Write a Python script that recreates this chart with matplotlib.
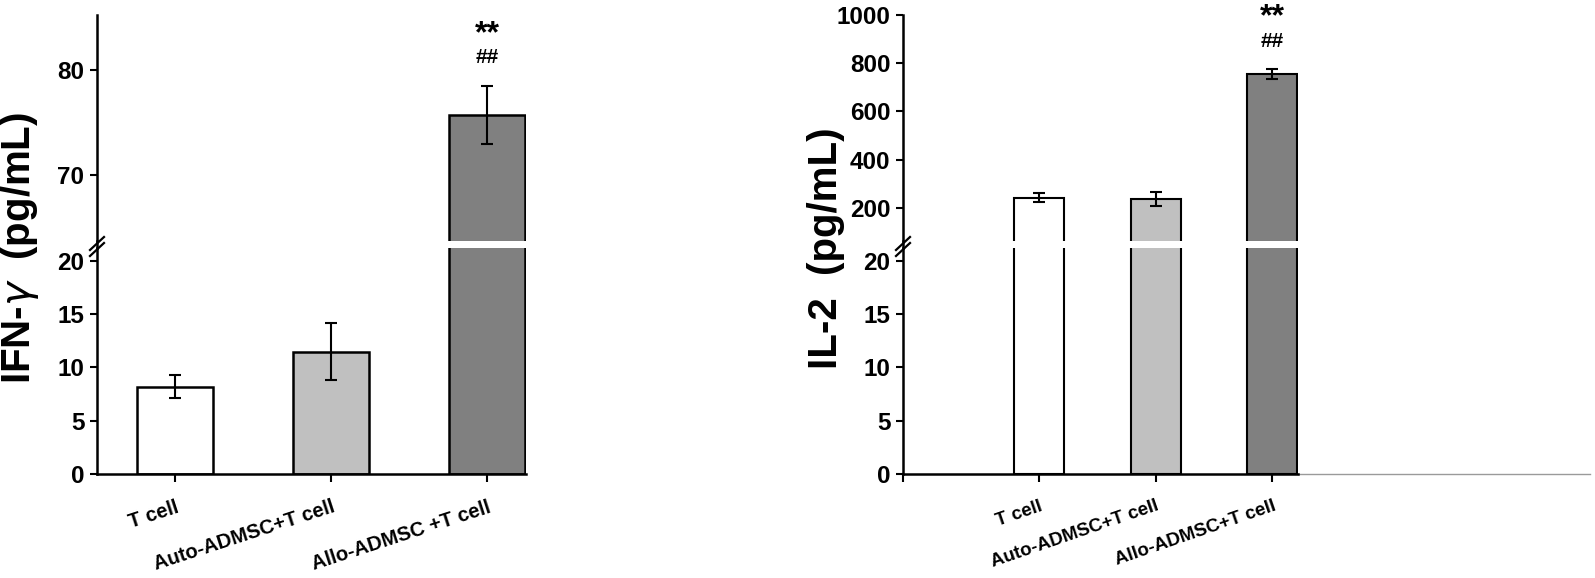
import numpy as np
import matplotlib
matplotlib.use("Agg")
import matplotlib.pyplot as plt
from matplotlib import font_manager
from matplotlib.lines import Line2D

# data
groups_ifn = ["T cell", "Auto-ADMSC+T cell", "Allo-ADMSC +T cell"]
groups_il2 = ["T cell", "Auto-ADMSC+T cell", "Allo-ADMSC+T cell"]
ifn_mean = [8.2, 11.5, 75.7]
ifn_err = [1.1, 2.7, 2.8]
il2_mean = [242, 238, 755]
il2_err = [18, 30, 22]
bar_colors = ["white", "#c0c0c0", "#808080"]
sig_idx = 2

lower_ticks = [0, 5, 10, 15, 20]
ifn_upper_ticks = [70, 80]
il2_upper_ticks = [200, 400, 600, 800, 1000]


def has_font(name):
    try:
        font_manager.findfont(font_manager.FontProperties(family=name), fallback_to_default=False)
        return True
    except ValueError:
        return False


if has_font("Liberation Sans Narrow"):
    tick_font = font_manager.FontProperties(family="Liberation Sans Narrow", weight="bold", size=20)
else:
    tick_font = font_manager.FontProperties(family="Liberation Sans", weight="bold", size=17.5)

W, H = 1595, 578
fig = plt.figure(figsize=(W / 100, H / 100), dpi=100)


def box(x0, y0, x1, y1):
    return [x0 / W, 1 - y1 / H, (x1 - x0) / W, (y1 - y0) / H]


def draw_panel(x0, x1, means, errs, labels, xlim, width, lo_lim, hi_lim, hi_ticks,
               ylabel, label_x, edge_lw, xlab_size, xlab_rot, extra_left_tick=False, tail=None):
    ax_lo = fig.add_axes(box(x0, 248, x1, 474))
    ax_hi = fig.add_axes(box(x0, 15, x1, 241))
    pos = np.arange(len(means))
    for ax in (ax_lo, ax_hi):
        ax.bar(pos, means, width=width, color=bar_colors, edgecolor="black",
               linewidth=edge_lw, zorder=2)
        ax.errorbar(pos, means, yerr=errs, fmt="none", ecolor="black",
                    elinewidth=1.5, capsize=4, capthick=1.5, zorder=3)
        ax.set_xlim(*xlim)
        ax.spines[["top", "right"]].set_visible(False)
        ax.spines["left"].set_linewidth(1.8)
        ax.tick_params(axis="y", direction="out", length=5, width=1.5, pad=4)
        ax.patch.set_alpha(0)

    ax_lo.set_ylim(*lo_lim)
    ax_lo.set_yticks(lower_ticks)
    ax_hi.set_ylim(*hi_lim)
    ax_hi.set_yticks(hi_ticks)
    for ax in (ax_lo, ax_hi):
        for t in ax.get_yticklabels():
            t.set_fontproperties(tick_font)

    ax_hi.spines["bottom"].set_visible(False)
    ax_hi.set_xticks([])

    ax_lo.spines["bottom"].set_linewidth(1.8)
    xt = list(pos)
    xl = list(labels)
    if extra_left_tick:
        xt = [xlim[0]] + xt
        xl = [""] + xl
    ax_lo.set_xticks(xt)
    ax_lo.set_xticklabels(xl, rotation=xlab_rot, ha="right", rotation_mode="anchor",
                          fontsize=xlab_size, fontweight="bold", family="Liberation Sans")
    ax_lo.tick_params(axis="x", direction="out", length=6, width=1.5, pad=11)

    # significance marks above the last bar
    top = means[sig_idx] + errs[sig_idx]
    ax_hi.annotate("##", (sig_idx, top), xytext=(0, 20), textcoords="offset points",
                   ha="center", va="center", fontsize=15, fontweight="bold",
                   family="Liberation Sans")
    ax_hi.annotate("**", (sig_idx, top), xytext=(0, 37), textcoords="offset points",
                   ha="center", va="center", fontsize=23, fontweight="bold",
                   family="Liberation Sans")

    # continuous spine through the gap plus break marks
    fx = x0 / W
    fig.add_artist(Line2D([fx, fx], [1 - 248 / H, 1 - 241 / H], color="black", lw=1.8))
    for dy in (0, 6):
        fig.add_artist(Line2D([(x0 - 7) / W, (x0 + 7) / W],
                              [1 - (250 + dy) / H, 1 - (237 + dy) / H],
                              color="black", lw=1.6))

    if tail is not None:
        ax_lo.plot([1, tail], [0, 0], transform=ax_lo.transAxes, color="#9a9a9a",
                   lw=1, clip_on=False)

    fig.text(label_x / W, 1 - 248 / H, ylabel, rotation=90, ha="center", va="center",
             fontsize=29, fontweight="bold", family="Liberation Sans")
    return ax_lo, ax_hi


draw_panel(97, 526, ifn_mean, ifn_err, groups_ifn, (-0.5, 2.25), 0.49,
           (0, 21.22), (63.7, 85.24), ifn_upper_ticks,
           "IFN-$\\gamma$  (pg/mL)", 20, 1.8, 14.5, 18)

draw_panel(903, 1298, il2_mean, il2_err, groups_il2, (-1.17, 2.22), 0.43,
           (0, 21.22), (63, 1000), il2_upper_ticks,
           "IL-2  (pg/mL)", 826, 1.5, 13.5, 19, extra_left_tick=True, tail=1.74)

fig.savefig("out.png", dpi=100, facecolor="white")
